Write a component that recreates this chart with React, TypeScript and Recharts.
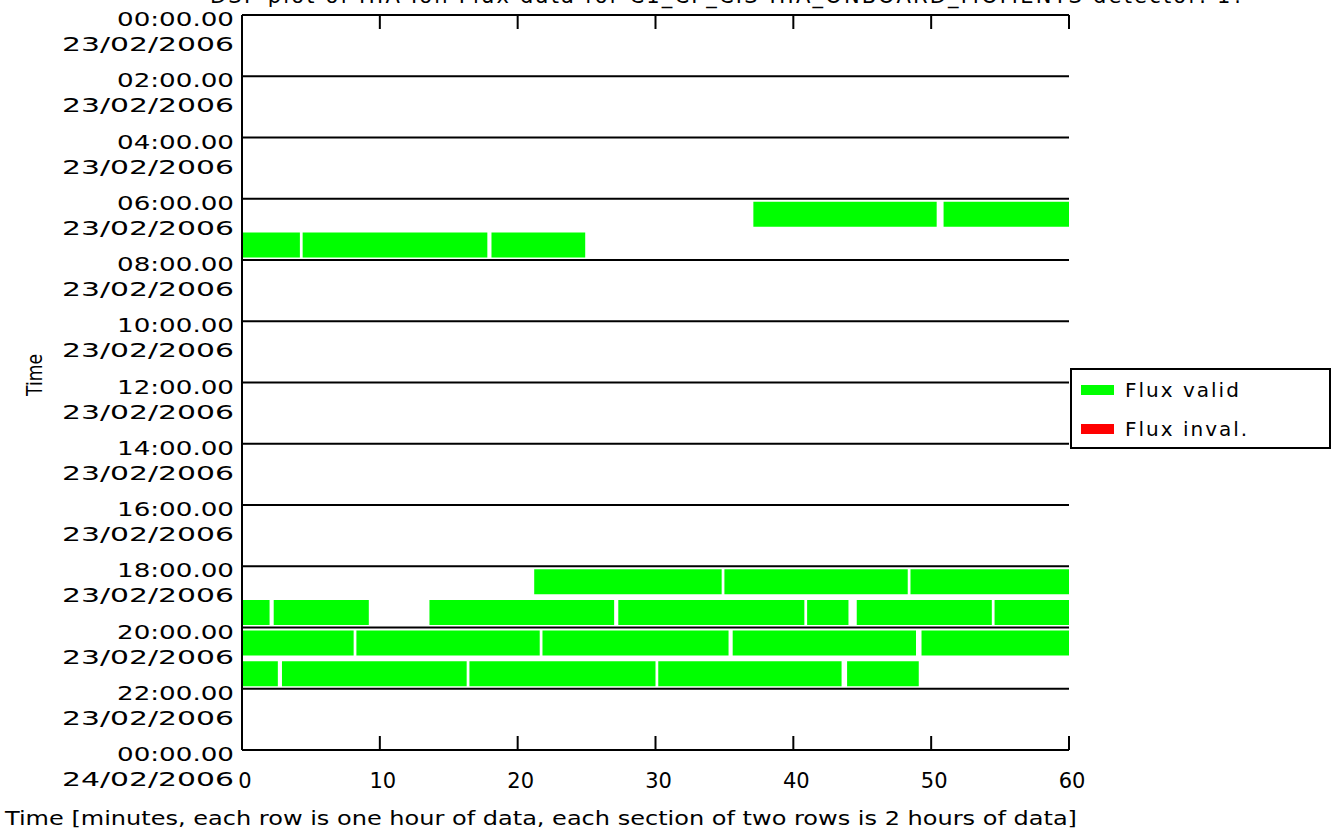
import { BarChart, Bar, XAxis, YAxis, ReferenceLine, Legend } from 'recharts';

const FONT = '"DejaVu Sans", sans-serif';
const GREEN = '#00ff00';
const RED = '#ff0000';

// y axis: one label at every section boundary (2 hours)
const sectionHours = [0, 2, 4, 6, 8, 10, 12, 14, 16, 18, 20, 22, 24];
const timeLabels = [
  '00:00.00', '02:00.00', '04:00.00', '06:00.00', '08:00.00', '10:00.00', '12:00.00',
  '14:00.00', '16:00.00', '18:00.00', '20:00.00', '22:00.00', '00:00.00',
];
const dateLabels = [
  '23/02/2006', '23/02/2006', '23/02/2006', '23/02/2006', '23/02/2006', '23/02/2006', '23/02/2006',
  '23/02/2006', '23/02/2006', '23/02/2006', '23/02/2006', '23/02/2006', '24/02/2006',
];

const minuteTicks = [0, 10, 20, 30, 40, 50, 60];

// valid flux intervals [start, end] in minutes, one list per hour row
const hour06 = [[37.1, 50.4], [50.9, 60]];
const hour07 = [[0, 4.2], [4.4, 17.8], [18.1, 24.9]];
const hour18 = [[21.2, 34.8], [35.0, 48.3], [48.5, 60]];
const hour19 = [[0, 2.0], [2.3, 9.2], [13.6, 27.0], [27.3, 40.8], [41.0, 44.0], [44.6, 54.4], [54.6, 60]];
const hour20 = [[0, 8.1], [8.3, 21.6], [21.8, 35.3], [35.6, 48.9], [49.3, 60]];
const hour21 = [[0, 2.6], [2.9, 16.3], [16.5, 30.0], [30.2, 43.5], [43.9, 49.1]];

const validByHour: Record<number, number[][]> = {
  6: hour06, 7: hour07, 18: hour18, 19: hour19, 20: hour20, 21: hour21,
};

const legendOrder = ['Flux valid', 'Flux inval.'];

const MAX_SEG = 7;
const LAST_ROW = 23;

// turn intervals into gap/segment lengths so they can be stacked
const rows = Array.from({ length: 24 }, (_, h) => {
  const segs = validByHour[h] || [];
  const row: Record<string, number> = { hour: h, invalid: 0 };
  let prev = 0;
  for (let i = 0; i < MAX_SEG; i++) {
    const s = segs[i];
    row['gap' + i] = s ? s[0] - prev : 0;
    row['seg' + i] = s ? s[1] - s[0] : 0;
    if (s) prev = s[1];
  }
  return row;
});

// section boundaries sit on the top edge of an even row, the last one on the bottom edge of row 23
const boundaryRows = sectionHours.map((h) => (h > LAST_ROW ? LAST_ROW : h));

const SectionTick = ({ x, y, payload }: any) => {
  const h = payload.value;
  const half = payload.offset || 0;
  const i = h === LAST_ROW ? sectionHours.length - 1 : sectionHours.indexOf(h);
  const y0 = h === LAST_ROW ? y + half : y - half;
  return (
    <g fontFamily={FONT} fontSize={20} fill="#000">
      <text x={x} y={y0 + 4} textAnchor="end" dominantBaseline="central" textLength={117} lengthAdjust="spacingAndGlyphs">
        {timeLabels[i]}
      </text>
      <text x={x} y={y0 + 29} textAnchor="end" dominantBaseline="central" textLength={172} lengthAdjust="spacingAndGlyphs">
        {dateLabels[i]}
      </text>
    </g>
  );
};

const BottomTick = ({ x, y, payload }: any) => (
  <g>
    <line x1={x} x2={x} y1={y} y2={y - 14} stroke="#000" strokeWidth={2} />
    <text x={x + 3} y={y + 31} textAnchor="middle" dominantBaseline="central" fontFamily={FONT} fontSize={21} fill="#000">
      {payload.value}
    </text>
  </g>
);

const TopTick = ({ x, y }: any) => (
  <line x1={x} x2={x} y1={y} y2={y + 14} stroke="#000" strokeWidth={2} />
);

const LegendBox = ({ payload }: any) => {
  const items = (payload || [])
    .filter((p: any) => p.type !== 'none' && legendOrder.includes(p.value))
    .sort((a: any, b: any) => legendOrder.indexOf(a.value) - legendOrder.indexOf(b.value));
  return (
    <div style={{
      border: '2px solid #000', background: '#fff', width: 261, height: 81, boxSizing: 'border-box',
      paddingLeft: 9, fontFamily: FONT, fontSize: 20, color: '#000',
    }}>
      {items.map((it: any) => (
        <div key={it.value} style={{ display: 'flex', alignItems: 'center', height: 39 }}>
          <span style={{ display: 'inline-block', width: 33, height: 10, background: it.color, marginRight: 11 }} />
          <span style={{ letterSpacing: 2 }}>{it.value}</span>
        </div>
      ))}
    </div>
  );
};

export default function App() {
  return (
    <div style={{ position: 'absolute', left: 0, top: 0, width: 1332, height: 834, background: '#fff', overflow: 'hidden' }}>
      <div style={{
        position: 'absolute', left: 210, top: -16, whiteSpace: 'nowrap', fontFamily: FONT, fontSize: 21,
        letterSpacing: 2.2, color: '#000',
      }}>
        DSP plot of HIA Ion Flux data for C1_CP_CIS-HIA_ONBOARD_MOMENTS detector: 1?
      </div>
      <BarChart
        width={1332}
        height={834}
        data={rows}
        layout="vertical"
        barSize={25}
        margin={{ top: 14, right: 263, bottom: 0, left: 0 }}
      >
        <XAxis
          type="number"
          domain={[0, 60]}
          ticks={minuteTicks}
          height={84}
          tickSize={0}
          tickMargin={0}
          tickLine={false}
          axisLine={{ stroke: '#000', strokeWidth: 2 }}
          tick={<BottomTick />}
          label={{
            content: ({ viewBox }: any) => (
              <text x={viewBox.x - 237} y={viewBox.y + 68} dominantBaseline="central" fontFamily={FONT} fontSize={20}
                fill="#000" textLength={1072} lengthAdjust="spacingAndGlyphs">
                Time [minutes, each row is one hour of data, each section of two rows is 2 hours of data]
              </text>
            ),
          }}
        />
        <XAxis
          xAxisId="top"
          orientation="top"
          type="number"
          domain={[0, 60]}
          allowDataOverflow
          ticks={minuteTicks}
          interval={0}
          height={1}
          tickSize={0}
          tickMargin={0}
          tickLine={false}
          axisLine={{ stroke: '#000', strokeWidth: 2 }}
          tick={<TopTick />}
        />
        <YAxis
          yAxisId="rows"
          type="category"
          dataKey="hour"
          ticks={[...sectionHours.slice(0, -1), LAST_ROW]}
          interval={0}
          width={242}
          tickSize={0}
          tickMargin={8}
          tickLine={false}
          axisLine={{ stroke: '#000', strokeWidth: 2 }}
          tick={<SectionTick />}
          label={{
            content: ({ viewBox }: any) => (
              <text x={viewBox.x + 35} y={viewBox.y + 360} textAnchor="middle" dominantBaseline="central"
                transform={`rotate(-90 ${viewBox.x + 35} ${viewBox.y + 360})`} fontFamily={FONT} fontSize={21}
                fill="#000" textLength={42} lengthAdjust="spacingAndGlyphs">
                Time
              </text>
            ),
          }}
        />
        <YAxis
          yAxisId="right"
          orientation="right"
          type="category"
          dataKey="hour"
          width={0}
          tick={false}
          tickLine={false}
          axisLine={{ stroke: '#000', strokeWidth: 2 }}
        />
        {boundaryRows.map((r, k) => (
          <ReferenceLine
            key={'sec' + k}
            yAxisId="rows"
            y={r}
            position={k === boundaryRows.length - 1 ? 'end' : 'start'}
            stroke="#000"
            strokeWidth={2}
          />
        ))}
        {Array.from({ length: MAX_SEG }, (_, i) => [
          <Bar key={'g' + i} yAxisId="rows" dataKey={'gap' + i} stackId="t" fill="none" legendType="none" isAnimationActive={false} />,
          <Bar
            key={'s' + i}
            yAxisId="rows"
            dataKey={'seg' + i}
            stackId="t"
            fill={GREEN}
            name={i === 0 ? 'Flux valid' : undefined}
            legendType={i === 0 ? 'rect' : 'none'}
            isAnimationActive={false}
          />,
        ])}
        <Bar yAxisId="rows" dataKey="invalid" stackId="t" fill={RED} name="Flux inval." legendType="rect" isAnimationActive={false} />
        <Legend
          layout="vertical"
          align="center"
          verticalAlign="middle"
          wrapperStyle={{ left: 1070, top: 368, width: 261, height: 81 }}
          content={<LegendBox />}
        />
      </BarChart>
    </div>
  );
}
